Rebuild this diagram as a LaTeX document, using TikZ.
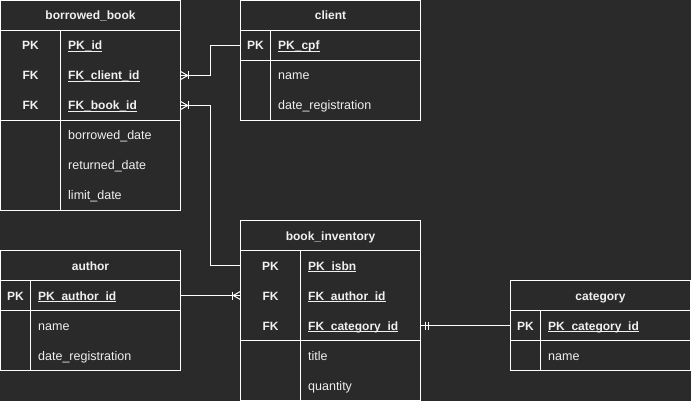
\documentclass[tikz,border=0pt]{standalone}
\usepackage{fontspec}
\setmainfont{Liberation Sans}
\usetikzlibrary{calc}
\definecolor{bgc}{HTML}{2A2A2A}
\definecolor{txt}{HTML}{F0F0F0}
\definecolor{ln}{HTML}{FFFFFF}
\newsavebox{\ulbox}
\newcommand{\pkf}[1]{\sbox{\ulbox}{\fontsize{12}{14}\selectfont\bfseries #1}\rlap{\usebox{\ulbox}}\rule[-1.9pt]{\wd\ulbox}{0.9pt}}
\begin{document}
\begin{tikzpicture}[x=1pt,y=-1pt,
  every node/.style={font=\fontsize{12.5}{14}\selectfont, text=txt, inner sep=0pt},
  tbl/.style={draw=ln, line width=1pt},
  rowbox/.style={minimum height=30, draw=none},
  hdrt/.style={anchor=center, text height=10.5pt, text depth=1.5pt, font=\fontsize{12}{14}\selectfont\bfseries},
  keyt/.style={anchor=center, text height=10.5pt, text depth=1.5pt, font=\fontsize{12}{14}\selectfont\bfseries},
  fldt/.style={anchor=west, text height=10.5pt, text depth=1.5pt},
  conn/.style={draw=ln, line width=1pt},
  mk/.style={draw=ln, line width=1pt},
]
\useasboundingbox (0,0) rectangle (691,401);
\fill[bgc] (0,0) rectangle (691,401);

% ---------- borrowed_book ----------
\draw[tbl] (0.5,0.5) rectangle (180.5,210.5);
\draw[tbl] (0.5,30.5) -- (180.5,30.5) (0.5,120.5) -- (180.5,120.5) (60.5,30.5) -- (60.5,210.5);
\node[hdrt] (bb-h) at (90.5,15.5) {borrowed\_book};
\node[rowbox, minimum width=180] (bb1) at (90.5,45.5) {};
\node[rowbox, minimum width=180] (bb2) at (90.5,75.5) {};
\node[rowbox, minimum width=180] (bb3) at (90.5,105.5) {};
\node[keyt] (bb1k) at (30.5,45.5) {PK};
\node[keyt] (bb2k) at (30.5,75.5) {FK};
\node[keyt] (bb3k) at (30.5,105.5) {FK};
\node[fldt] (bb1f) at (68,45.5) {\pkf{PK\_id}};
\node[fldt] (bb2f) at (68,75.5) {\pkf{FK\_client\_id}};
\node[fldt] (bb3f) at (68,105.5) {\pkf{FK\_book\_id}};
\node[fldt] (bb4f) at (68,135.5) {borrowed\_date};
\node[fldt] (bb5f) at (68,165.5) {returned\_date};
\node[fldt] (bb6f) at (68,195.5) {limit\_date};

% ---------- client ----------
\draw[tbl] (240.5,0.5) rectangle (420.5,120.5);
\draw[tbl] (240.5,30.5) -- (420.5,30.5) (240.5,60.5) -- (420.5,60.5) (270.5,30.5) -- (270.5,120.5);
\node[hdrt] (cl-h) at (330.5,15.5) {client};
\node[rowbox, minimum width=180] (cl1) at (330.5,45.5) {};
\node[keyt] (cl1k) at (255.5,45.5) {PK};
\node[fldt] (cl1f) at (278,45.5) {\pkf{PK\_cpf}};
\node[fldt] (cl2f) at (278,75.5) {name};
\node[fldt] (cl3f) at (278,105.5) {date\_registration};

% ---------- book_inventory ----------
\draw[tbl] (240.5,220.5) rectangle (420.5,400.5);
\draw[tbl] (240.5,250.5) -- (420.5,250.5) (240.5,340.5) -- (420.5,340.5) (300.5,250.5) -- (300.5,400.5);
\node[hdrt] (bi-h) at (330.5,235.5) {book\_inventory};
\node[rowbox, minimum width=180] (bi1) at (330.5,265.5) {};
\node[rowbox, minimum width=180] (bi2) at (330.5,295.5) {};
\node[rowbox, minimum width=180] (bi3) at (330.5,325.5) {};
\node[keyt] (bi1k) at (270.5,265.5) {PK};
\node[keyt] (bi2k) at (270.5,295.5) {FK};
\node[keyt] (bi3k) at (270.5,325.5) {FK};
\node[fldt] (bi1f) at (308,265.5) {\pkf{PK\_isbn}};
\node[fldt] (bi2f) at (308,295.5) {\pkf{FK\_author\_id}};
\node[fldt] (bi3f) at (308,325.5) {\pkf{FK\_category\_id}};
\node[fldt] (bi4f) at (308,355.5) {title};
\node[fldt] (bi5f) at (308,385.5) {quantity};

% ---------- author ----------
\draw[tbl] (0.5,250.5) rectangle (180.5,370.5);
\draw[tbl] (0.5,280.5) -- (180.5,280.5) (0.5,310.5) -- (180.5,310.5) (30.5,280.5) -- (30.5,370.5);
\node[hdrt] (au-h) at (90.5,265.5) {author};
\node[rowbox, minimum width=180] (au1) at (90.5,295.5) {};
\node[keyt] (au1k) at (15.5,295.5) {PK};
\node[fldt] (au1f) at (38,295.5) {\pkf{PK\_author\_id}};
\node[fldt] (au2f) at (38,325.5) {name};
\node[fldt] (au3f) at (38,355.5) {date\_registration};

% ---------- category ----------
\draw[tbl] (510.5,280.5) rectangle (690.5,370.5);
\draw[tbl] (510.5,310.5) -- (690.5,310.5) (510.5,340.5) -- (690.5,340.5) (540.5,310.5) -- (540.5,370.5);
\node[hdrt] (ca-h) at (600.5,295.5) {category};
\node[rowbox, minimum width=180] (ca1) at (600.5,325.5) {};
\node[keyt] (ca1k) at (525.5,325.5) {PK};
\node[fldt] (ca1f) at (548,325.5) {\pkf{PK\_category\_id}};
\node[fldt] (ca2f) at (548,355.5) {name};

% ---------- connectors ----------
% client -> borrowed_book (one-to-many at borrowed_book)
\draw[conn] (cl1.west) -- ++(-30,0) |- (bb2.east);
\draw[mk] ($(bb2.east)+(0,-4)$) -- ($(bb2.east)+(7,0)$) -- ($(bb2.east)+(0,4)$);
\draw[mk] ($(bb2.east)+(7.5,-4)$) -- ($(bb2.east)+(7.5,4)$);

% borrowed_book -> book_inventory
\draw[conn] (bb3.east) -- ++(30,0) |- (bi1.west);
\draw[mk] ($(bb3.east)+(0,-4)$) -- ($(bb3.east)+(7,0)$) -- ($(bb3.east)+(0,4)$);
\draw[mk] ($(bb3.east)+(7.5,-4)$) -- ($(bb3.east)+(7.5,4)$);

% author -> book_inventory
\draw[conn] (au1.east) -- (bi2.west);
\draw[mk] ($(bi2.west)+(0,-4)$) -- ($(bi2.west)+(-7,0)$) -- ($(bi2.west)+(0,4)$);
\draw[mk] ($(bi2.west)+(-7.5,-4)$) -- ($(bi2.west)+(-7.5,4)$);

% book_inventory -> category (mandatory one at book_inventory)
\draw[conn] (bi3.east) -- (ca1.west);
\draw[mk] ($(bi3.east)+(4.5,-4)$) -- ($(bi3.east)+(4.5,4)$);
\draw[mk] ($(bi3.east)+(7.5,-4)$) -- ($(bi3.east)+(7.5,4)$);
\end{tikzpicture}
\end{document}
